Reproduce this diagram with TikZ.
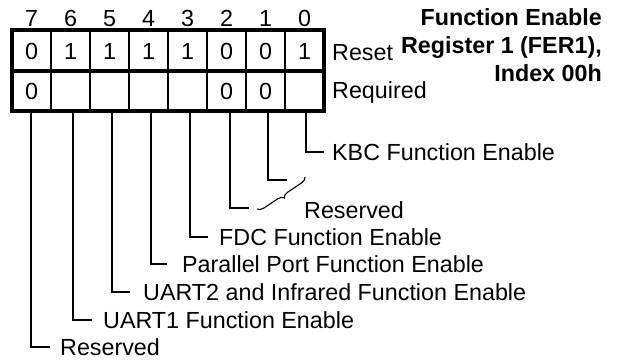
\documentclass[tikz,border=0pt]{standalone}
\usepackage{fontspec}
\setmainfont{Liberation Sans}
\usetikzlibrary{decorations.pathreplacing}
\begin{document}
\begin{tikzpicture}[x=1pt,y=-1pt,
  txt/.style={font=\fontsize{23.3}{28}\selectfont, inner sep=0pt, text height=16.5pt, text depth=0pt},
  lbl/.style={txt, anchor=west},
  leader/.style={line width=1.1pt},
  thick box/.style={line width=3.4pt},
  thin grid/.style={line width=1.1pt}]
\useasboundingbox (0,0) rectangle (618,362);
% grid
\foreach \i in {1,...,7} \draw[thin grid] ({12+39*\i},30) -- ({12+39*\i},111);
\draw[thick box] (12,71) -- (324,71);
\draw[thick box] (12,30) rectangle (324,111);
% bit numbers and values
\foreach \b/\r/\q [count=\k from 0] in {7/0/0,6/1/,5/1/,4/1/,3/1/,2/0/0,1/0/0,0/1/} {
  \node[txt] (n\b) at ({31.5+39*\k},18) {\b};
  \node[txt] (r\b) at ({31.5+39*\k},51) {\r};
  \node[txt] (q\b) at ({31.5+39*\k},91) {\q};
}
\node[lbl] (reset) at (332,52) {Reset};
\node[lbl] (req) at (332,90) {Required};
% title
\node[font=\fontsize{23.3}{28}\selectfont\bfseries, align=right, anchor=north east, inner sep=0pt] (title) at (602,8)
  {Function Enable\\Register 1 (FER1),\\Index 00h};
% leaders
\coordinate (b0) at (306,111);
\coordinate (b1) at (268,111);
\coordinate (b2) at (230,111);
\coordinate (b3) at (190,111);
\coordinate (b4) at (151,111);
\coordinate (b5) at (112,111);
\coordinate (b6) at (73,111);
\coordinate (b7) at (31,111);
\node[lbl] (l0) at (332,152) {KBC Function Enable};
\node[lbl] (l3) at (219,237) {FDC Function Enable};
\node[lbl] (l4) at (182,264) {Parallel Port Function Enable};
\node[lbl] (l5) at (143,292) {UART2 and Infrared Function Enable};
\node[lbl] (l6) at (103,320) {UART1 Function Enable};
\node[lbl] (l7) at (60,347) {Reserved};
\node[lbl] (l12) at (304,210) {Reserved};
\coordinate (e1) at (287,180);
\coordinate (e2) at (249,208);
\draw[leader] (b0) |- ([xshift=-8pt]l0.west);
\draw[leader] (b1) |- (e1);
\draw[leader] (b2) |- (e2);
\draw[leader] (b3) |- ([xshift=-11pt]l3.west);
\draw[leader] (b4) |- ([xshift=-15pt]l4.west);
\draw[leader] (b5) |- ([xshift=-13pt]l5.west);
\draw[leader] (b6) |- ([xshift=-11pt]l6.west);
\draw[leader] (b7) |- ([xshift=-10pt]l7.west);
\coordinate (br1) at (305,177);
\coordinate (br2) at (257,209);
\draw[leader, decorate, decoration={brace, amplitude=6pt}] (br1) -- (br2);
\end{tikzpicture}
\end{document}
